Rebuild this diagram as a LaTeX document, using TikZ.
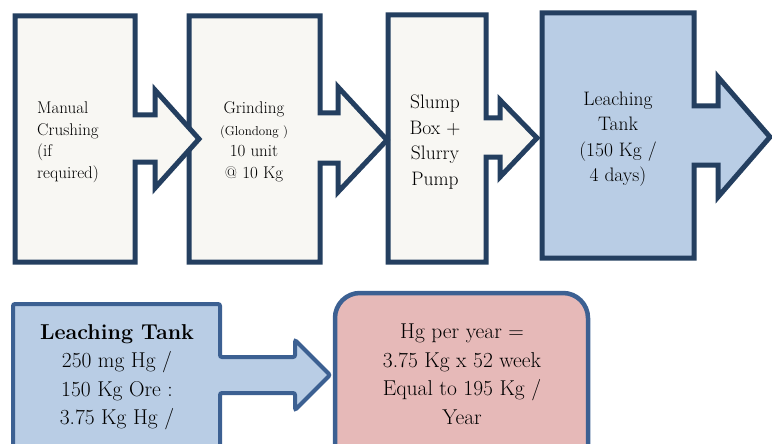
\documentclass[tikz,border=0pt]{standalone}
\definecolor{navy}{RGB}{36,63,96}
\definecolor{midblue}{RGB}{60,96,146}
\definecolor{cream}{RGB}{248,247,243}
\definecolor{paleblue}{RGB}{185,205,229}
\definecolor{rose}{RGB}{230,185,184}
\begin{document}
\begin{tikzpicture}[x=1pt,y=-1pt,
    box/.style={draw=navy,line width=5pt,fill=cream,line join=miter},
    small/.style={inner sep=0,font=\fontsize{17}{21.5}\selectfont},
    mid/.style={inner sep=0,align=center,font=\fontsize{19.5}{25.5}\selectfont},
    big/.style={inner sep=0,align=center,font=\fontsize{21.5}{28.5}\selectfont}]
  \useasboundingbox (0,0) rectangle (772,444);
  % top row, drawn right to left so that each arrow tip lies on the next box
  \draw[box,fill=paleblue] (542,13) -- (694,13) -- (694,106) -- (718,106) -- (718,77)
    -- (770,137) -- (718,197) -- (718,165) -- (694,165) -- (694,258) -- (542,258) -- cycle;
  \draw[box] (388,15) -- (486,15) -- (486,118) -- (500,118) -- (500,100)
    -- (537,138) -- (500,177) -- (500,157) -- (486,157) -- (486,262) -- (388,262) -- cycle;
  \draw[box] (189,16) -- (320,16) -- (320,113) -- (338,113) -- (338,87)
    -- (387,140) -- (338,192) -- (338,163) -- (320,163) -- (320,262) -- (189,262) -- cycle;
  \draw[box] (15,16) -- (135,16) -- (135,115) -- (155,115) -- (155,90)
    -- (199,139) -- (155,188) -- (155,162) -- (135,162) -- (135,262) -- (15,262) -- cycle;
  \node[small,align=left,anchor=west] (crush) at (37,142)
    {Manual\\Crushing\\(if\\required)};
  \node[small,align=center] (grind) at (254,142)
    {Grinding\\{\fontsize{13}{15}\selectfont(Glondong )}\\10 unit\\@ 10 Kg};
  \node[mid] (slump) at (435,142) {Slump\\Box +\\Slurry\\Pump};
  \node[mid] (leach) at (618,139) {Leaching\\Tank\\(150 Kg /\\4 days)};
  % bottom row
  \draw[draw=midblue,line width=4pt,fill=paleblue,rounded corners=2pt]
    (13,304) -- (220,304) -- (220,357) -- (295,357) -- (295,340) -- (330,375)
    -- (295,410) -- (295,393) -- (220,393) -- (220,470) -- (13,470) -- cycle;
  \draw[draw=midblue,line width=4.5pt,fill=rose,rounded corners=25pt]
    (335,293) rectangle (588,480);
  \node[big] (tank) at (117,377) {\textbf{Leaching Tank}\\250 mg Hg /\\150 Kg Ore :\\3.75 Kg Hg /};
  \node[big] (hgyear) at (462,374) {Hg per year =\\3.75 Kg x 52 week\\Equal to 195 Kg /\\Year};
\end{tikzpicture}
\end{document}
